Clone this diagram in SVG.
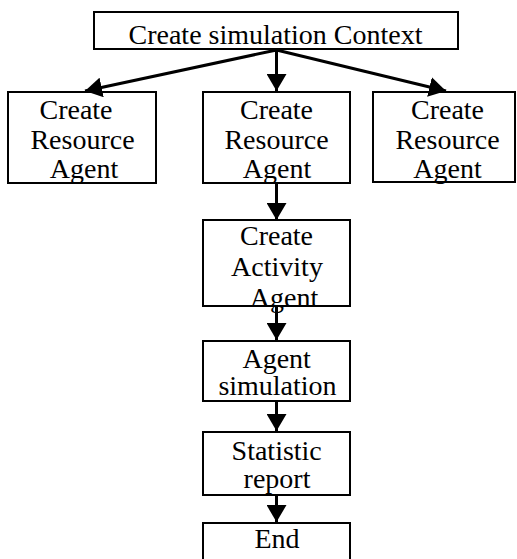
<svg xmlns="http://www.w3.org/2000/svg" width="517" height="559" viewBox="0 0 517 559">
  <style>
    .box { fill: #ffffff; stroke: #000000; stroke-width: 2; }
    .lbl { font-size: 28px; fill: #000000; text-anchor: middle; }
    .conn { stroke: #000000; stroke-width: 3; fill: none; }
  </style>
  <defs>
    <marker id="arr" viewBox="0 0 17 20" refX="17" refY="10" markerWidth="17" markerHeight="20" markerUnits="userSpaceOnUse" orient="auto">
      <path d="M0,0 L17,10 L0,20 Z" fill="#000000"/>
    </marker>
  </defs>
  <rect width="517" height="559" fill="#ffffff"/>

  <g font-family="Liberation Serif, DejaVu Serif, serif">
  <g id="n-context">
    <rect class="box" x="94" y="12" width="364" height="37"/>
    <text class="lbl" x="275.5" y="44">Create simulation Context</text>
  </g>

  <g id="n-resource-left">
    <rect class="box" x="8" y="92" width="148" height="91"/>
    <text class="lbl" x="76" y="119">Create</text>
    <text class="lbl" x="82.5" y="149">Resource</text>
    <text class="lbl" x="84" y="178">Agent</text>
  </g>

  <g id="n-resource-mid">
    <rect class="box" x="203" y="92" width="147" height="91"/>
    <text class="lbl" x="276.5" y="119">Create</text>
    <text class="lbl" x="276.5" y="149">Resource</text>
    <text class="lbl" x="277" y="178">Agent</text>
  </g>

  <g id="n-resource-right">
    <rect class="box" x="373" y="92" width="142" height="90"/>
    <text class="lbl" x="447.5" y="119">Create</text>
    <text class="lbl" x="447.5" y="149">Resource</text>
    <text class="lbl" x="447.5" y="178">Agent</text>
  </g>

  <g id="n-activity">
    <rect class="box" x="203" y="220" width="147" height="86"/>
    <text class="lbl" x="276.5" y="245">Create</text>
    <text class="lbl" x="277" y="276">Activity</text>
    <text class="lbl" x="284" y="307">Agent</text>
  </g>

  <g id="n-simulation">
    <rect class="box" x="203" y="341" width="147" height="60"/>
    <text class="lbl" x="276.7" y="368">Agent</text>
    <text class="lbl" x="277.5" y="395">simulation</text>
  </g>

  <g id="n-statistic">
    <rect class="box" x="203" y="432" width="147" height="63"/>
    <text class="lbl" x="276.7" y="460">Statistic</text>
    <text class="lbl" x="277" y="488">report</text>
  </g>

  <g id="n-end">
    <rect class="box" x="203" y="523" width="147" height="44"/>
    <text class="lbl" x="277" y="548">End</text>
  </g>
  </g>

  <g id="connectors">
    <line class="conn" x1="276.5" y1="50" x2="85" y2="91" marker-end="url(#arr)"/>
    <line class="conn" x1="276.5" y1="50" x2="276.5" y2="91" marker-end="url(#arr)"/>
    <line class="conn" x1="276.5" y1="50" x2="446" y2="91" marker-end="url(#arr)"/>
    <line class="conn" x1="276.5" y1="184" x2="276.5" y2="220" marker-end="url(#arr)"/>
    <line class="conn" x1="276.5" y1="307" x2="276.5" y2="340" marker-end="url(#arr)"/>
    <line class="conn" x1="276.5" y1="402" x2="276.5" y2="431" marker-end="url(#arr)"/>
    <line class="conn" x1="276.5" y1="496" x2="276.5" y2="522" marker-end="url(#arr)"/>
  </g>
</svg>
